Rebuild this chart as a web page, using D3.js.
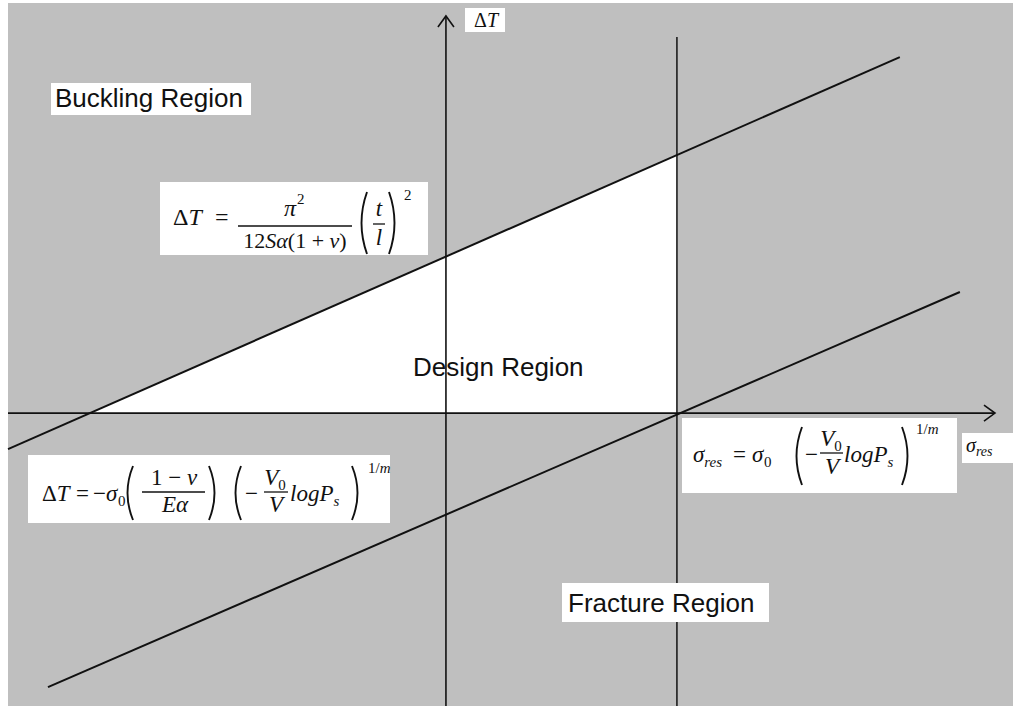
<!DOCTYPE html>
<html>
<head>
<meta charset="utf-8">
<script src="https://cdn.jsdelivr.net/npm/d3@7"></script>
<style>
  html, body { margin: 0; padding: 0; background: #ffffff; }
  svg { display: block; }
</style>
</head>
<body>
<svg id="chart" width="1013" height="706"></svg>
<script>
// Design map: residual stress (sigma_res) vs. temperature change (Delta T).
// Buckling limit line (upper), fracture limit line (lower) and the
// fracture stress limit (vertical) bound the admissible design region.

const bucklingX = [-18.96, 19.65];
const bucklingT = [-1.56, 15.41];

const fractureX = [-17.23, 22.25];
const fractureT = [-11.86, 5.24];

const designX = [-15.4, 10, 10];
const designT = [0, 11.17, 0];

const fractureLimit = 10;          // sigma_res at which fracture occurs
const limitSpan = [16.28, -12.68];  // vertical extent of that limit line

const axisX = [-18.96, 23.77];      // horizontal axis extent (sigma_res)
const axisT = [17.19, -12.68];      // vertical axis extent (Delta T)

const regionLabels = ["Buckling Region", "Design Region", "Fracture Region"];

const W = 1013, H = 706;
const svg = d3.select("#chart");

const x = d3.scaleLinear().domain([-18.96, 24.55]).range([8, 1013]);
const y = d3.scaleLinear().domain([17.88, -12.68]).range([0, 706]);

const INK = "#111";
const MATH = "'Liberation Serif', 'DejaVu Serif', serif";
const SANS = "'Liberation Sans', Arial, sans-serif";

// grey field
svg.append("rect")
  .attr("x", 8).attr("y", 3)
  .attr("width", W - 8).attr("height", H - 3)
  .attr("fill", "#bfbfbf");

// design region
svg.append("path")
  .datum(d3.zip(designX, designT))
  .attr("d", d3.line().x(d => x(d[0])).y(d => y(d[1])).curve(d3.curveLinearClosed))
  .attr("fill", "#ffffff");

// axes
svg.append("line")
  .attr("x1", x(axisX[0])).attr("x2", x(axisX[1]))
  .attr("y1", y(0)).attr("y2", y(0))
  .attr("stroke", INK).attr("stroke-width", 1.8);
svg.append("line")
  .attr("x1", x(0)).attr("x2", x(0))
  .attr("y1", y(axisT[0])).attr("y2", y(axisT[1]))
  .attr("stroke", INK).attr("stroke-width", 1.6);

// open arrow heads
const tipX = [x(axisX[1]), y(0)];
svg.append("path")
  .attr("d", `M${tipX[0] - 11},${tipX[1] - 8} L${tipX[0]},${tipX[1]} L${tipX[0] - 11},${tipX[1] + 8}`)
  .attr("fill", "none").attr("stroke", INK).attr("stroke-width", 1.6);
const tipY = [x(0), y(axisT[0])];
svg.append("path")
  .attr("d", `M${tipY[0] - 8},${tipY[1] + 11} L${tipY[0]},${tipY[1]} L${tipY[0] + 8},${tipY[1] + 11}`)
  .attr("fill", "none").attr("stroke", INK).attr("stroke-width", 1.6);

// fracture stress limit
svg.append("line")
  .attr("x1", x(fractureLimit)).attr("x2", x(fractureLimit))
  .attr("y1", y(limitSpan[0])).attr("y2", y(limitSpan[1]))
  .attr("stroke", INK).attr("stroke-width", 1.5);

// buckling and fracture lines
const line = d3.line().x(d => x(d[0])).y(d => y(d[1]));
svg.append("path").datum(d3.zip(bucklingX, bucklingT))
  .attr("d", line).attr("fill", "none").attr("stroke", INK).attr("stroke-width", 2);
svg.append("path").datum(d3.zip(fractureX, fractureT))
  .attr("d", line).attr("fill", "none").attr("stroke", INK).attr("stroke-width", 2);

// ---------- region labels ----------
function whiteBox(g, bx, by, bw, bh) {
  g.append("rect").attr("x", bx).attr("y", by).attr("width", bw).attr("height", bh).attr("fill", "#fff");
}
{
  const g = svg.append("g");
  whiteBox(g, 51, 83, 200, 32);
  g.append("text").attr("x", 55).attr("y", 107).text(regionLabels[0])
    .attr("font-family", SANS).attr("font-size", 26).attr("fill", INK);
  svg.append("text").attr("x", 413).attr("y", 376).text(regionLabels[1])
    .attr("font-family", SANS).attr("font-size", 26).attr("fill", INK);
  whiteBox(g, 562, 583, 207, 39);
  g.append("text").attr("x", 568).attr("y", 612).text(regionLabels[2])
    .attr("font-family", SANS).attr("font-size", 26).attr("fill", INK);
}

// ---------- math helpers ----------
function mtext(g, str, px, py, opt = {}) {
  return g.append("text")
    .attr("x", px).attr("y", py)
    .attr("font-family", MATH)
    .attr("font-size", opt.size || 23)
    .attr("font-style", opt.italic ? "italic" : "normal")
    .attr("text-anchor", opt.anchor || "start")
    .attr("fill", INK)
    .text(str);
}
// mixed roman / italic run: parts = [[text, italic, size, dy], ...]
function mrun(g, parts, px, py, opt = {}) {
  const t = g.append("text")
    .attr("x", px).attr("y", py)
    .attr("font-family", MATH)
    .attr("font-size", opt.size || 23)
    .attr("text-anchor", opt.anchor || "start")
    .attr("fill", INK);
  parts.forEach(p => {
    const s = t.append("tspan").text(p[0]).attr("font-style", p[1] ? "italic" : "normal");
    if (p[2]) s.attr("font-size", p[2]).attr("dy", p[3] || 0);
  });
  return t;
}
function bar(g, x1, x2, yy) {
  g.append("line").attr("x1", x1).attr("x2", x2).attr("y1", yy).attr("y2", yy)
    .attr("stroke", INK).attr("stroke-width", 1.3);
}
function paren(g, px, top, bottom, left) {
  const w = 8, mid = (top + bottom) / 2;
  const d = left
    ? `M${px + w},${top} Q${px - 3},${mid} ${px + w},${bottom}`
    : `M${px},${top} Q${px + w + 3},${mid} ${px},${bottom}`;
  g.append("path").attr("d", d).attr("fill", "none").attr("stroke", INK).attr("stroke-width", 1.9);
}

// ---------- buckling equation ----------
{
  const g = svg.append("g").attr("transform", "translate(160,182)");
  whiteBox(g, 0, 0, 268, 73);
  mrun(g, [["Δ", false], ["T", true]], 13, 43, { size: 24 });
  mtext(g, "=", 55, 43, { size: 24 });
  mtext(g, "π", 130, 34, { italic: true, anchor: "middle", size: 24 });
  mtext(g, "2", 137, 22, { size: 15 });
  bar(g, 78, 192, 44);
  mrun(g, [["12", false], ["Sα", true], ["(1 + ", false], ["ν", true], [")", false]], 135, 66,
       { anchor: "middle", size: 22 });
  paren(g, 199, 10, 72, true);
  mtext(g, "t", 219, 34, { italic: true, anchor: "middle" });
  bar(g, 213, 225, 42);
  mtext(g, "l", 219, 63, { italic: true, anchor: "middle" });
  paren(g, 229, 10, 72, false);
  mtext(g, "2", 244, 18, { size: 15 });
}

// ---------- fracture line equation ----------
{
  const g = svg.append("g").attr("transform", "translate(28,455)");
  whiteBox(g, 0, 0, 362, 68);
  mrun(g, [["Δ", false], ["T", true]], 14, 46);
  mtext(g, "=", 48, 46);
  mtext(g, "−", 65, 46);
  mtext(g, "σ", 78, 46, { italic: true });
  mtext(g, "0", 90, 51, { size: 15 });
  paren(g, 97, 11, 65, true);
  mrun(g, [["1 − ", false], ["ν", true]], 146, 30, { anchor: "middle" });
  bar(g, 114, 177, 37);
  mrun(g, [["Eα", true]], 147, 57, { anchor: "middle" });
  paren(g, 181, 11, 65, false);
  paren(g, 205, 11, 65, true);
  mtext(g, "−", 217, 46);
  mrun(g, [["V", true], ["0", false, 15, 5]], 247, 30, { anchor: "middle" });
  bar(g, 236, 260, 37);
  mtext(g, "V", 248, 57, { italic: true, anchor: "middle" });
  mrun(g, [["logP", true], ["s", true, 15, 5]], 262, 46);
  paren(g, 324, 11, 65, false);
  mrun(g, [["1/", false], ["m", true]], 340, 18, { size: 15 });
}

// ---------- fracture stress equation ----------
{
  const g = svg.append("g").attr("transform", "translate(682,418)");
  whiteBox(g, 0, 0, 275, 75);
  mrun(g, [["σ", true], ["res", true, 15, 5]], 11, 44);
  mtext(g, "=", 51, 44);
  mtext(g, "σ", 70, 44, { italic: true });
  mtext(g, "0", 82, 49, { size: 15 });
  paren(g, 112, 9, 67, true);
  mtext(g, "−", 123, 44);
  mrun(g, [["V", true], ["0", false, 15, 5]], 149, 28, { anchor: "middle" });
  bar(g, 138, 161, 35);
  mtext(g, "V", 150, 56, { italic: true, anchor: "middle" });
  mrun(g, [["logP", true], ["s", true, 15, 5]], 162, 44);
  paren(g, 220, 9, 67, false);
  mrun(g, [["1/", false], ["m", true]], 234, 16, { size: 15 });
}

// ---------- axis titles ----------
{
  const g = svg.append("g");
  whiteBox(g, 465, 8, 40, 24);
  mrun(g, [["Δ", false], ["T", true]], 474, 27, { size: 20 });
  whiteBox(g, 962, 433, 51, 30);
  mrun(g, [["σ", true], ["res", true, 14, 4]], 966, 452, { size: 20 });
}
</script>
</body>
</html>
